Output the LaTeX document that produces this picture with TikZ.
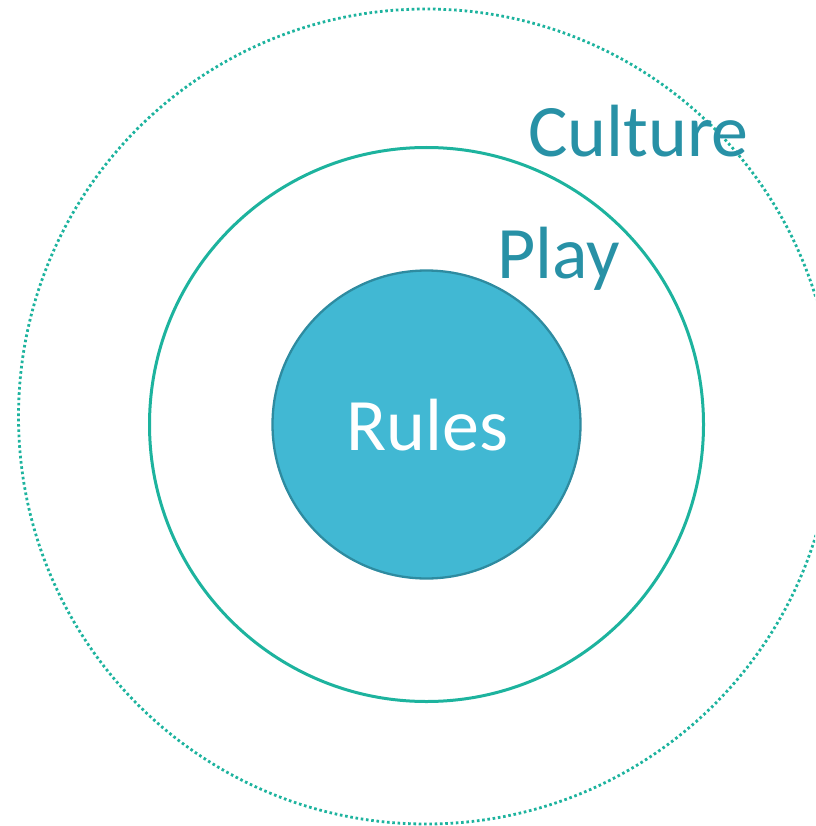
\documentclass[tikz,border=0pt]{standalone}
\usepackage{fontspec}
\setmainfont{Carlito}
\definecolor{teal1}{HTML}{1DB39E}
\definecolor{rulefill}{HTML}{41B8D3}
\definecolor{ruleedge}{HTML}{2E8BA0}
\definecolor{labelc}{HTML}{2891A6}
\tikzset{
  bigtext/.style={font=\fontsize{74}{80}\selectfont, inner sep=0pt},
}
\begin{document}
\begin{tikzpicture}[x=1pt,y=-1pt]
\useasboundingbox (0,0) rectangle (815,826);
\clip (0,0) rectangle (815,826);
\node[circle, draw=teal1, line width=2.8pt, dash pattern=on 2.6pt off 2.7pt, minimum size=815pt, inner sep=0pt] (culturering) at (426,416.5) {};
\node[circle, draw=teal1, line width=3pt, minimum size=554pt, inner sep=0pt] (playring) at (426.5,424.5) {};
\node[circle, draw=ruleedge, fill=rulefill, line width=2.3pt, minimum size=308pt, inner sep=0pt] (rules) at (426.5,424.5) {};
\node[bigtext, text=white, anchor=base west] (rulestext) at (346,450) {Rules};
\node[bigtext, text=labelc, anchor=base west] (play) at (497,278) {Play};
\node[bigtext, text=labelc, anchor=base west] (culture) at (528,157) {Culture};
\end{tikzpicture}
\end{document}
